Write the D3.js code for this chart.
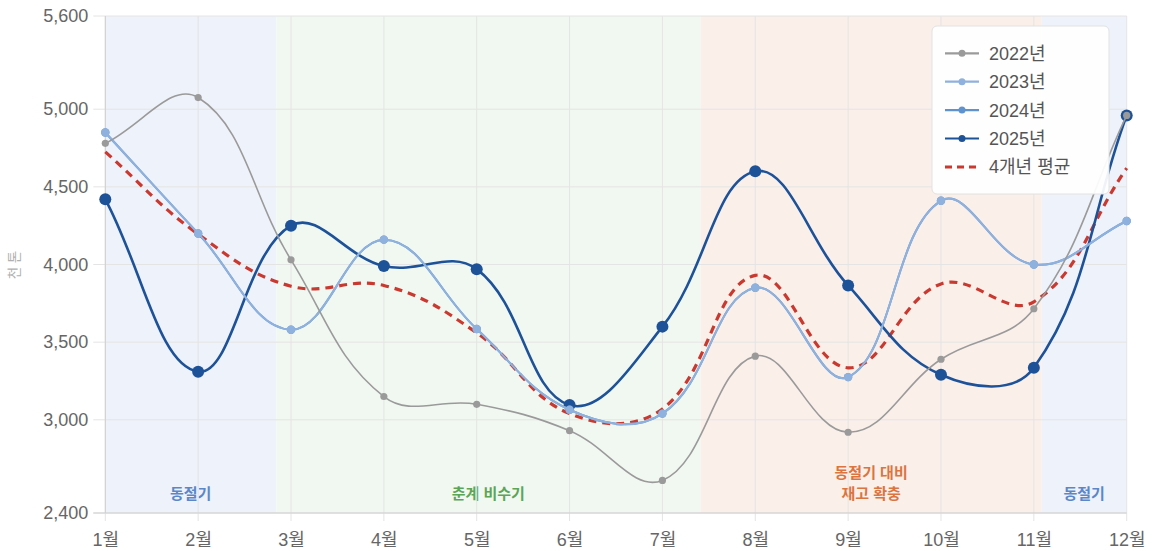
<!DOCTYPE html>
<html>
<head>
<meta charset="utf-8">
<script src="https://cdn.jsdelivr.net/npm/d3@7"></script>
<style>
  html, body { margin: 0; padding: 0; background: #fff; }
  svg { display: block; font-family: "Liberation Sans", "Noto Sans CJK KR", sans-serif; }
</style>
</head>
<body>
<svg id="chart" width="1158" height="551"></svg>
<script>
// Monthly stock levels (천 톤)
const months = ["1월","2월","3월","4월","5월","6월","7월","8월","9월","10월","11월","12월"];
const y2022 = [4780, 5075, 4030, 3150, 3100, 2930, 2610, 3410, 2920, 3390, 3715, 4960];
const y2023 = [4850, 4200, 3580, 4160, 3585, 3065, 3040, 3850, 3275, 4410, 4000, 4280];
const y2024 = [4850, 4200, 3580, 4160, 3585, 3065, 3040, 3850, 3275, 4410, 4000, 4280];
const y2025 = [4420, 3310, 4250, 3990, 3970, 3095, 3600, 4600, 3865, 3290, 3335, 4960];
const avg4 = [4725, 4195, 3860, 3865, 3560, 3040, 3070, 3930, 3335, 3875, 3760, 4620];
const yTicks = [2400, 3000, 3500, 4000, 4500, 5000, 5600];

// Seasonal bands, in month-index units
const bandStart = [0, 1.84, 6.41, 10.085];
const bandEnd = [1.84, 6.41, 10.085, 11];
const bandLabels = [["동절기"], ["춘계 비수기"], ["동절기 대비", "재고 확충"], ["동절기"]];
const bandFill = ["#eef2fa", "#f1f8f1", "#faefe9", "#eef2fa"];
const bandText = ["#5b87c8", "#5ba556", "#dc7440", "#5b87c8"];

const series = [
  { name: "2022년", values: y2022, color: "#9a9a9a", width: 1.6, r: 3.6 },
  { name: "2023년", values: y2023, color: "#8fb1de", width: 2, r: 4.2 },
  { name: "2024년", values: y2024, color: "#5f93cf", width: 2, r: 4.2 },
  { name: "2025년", values: y2025, color: "#1d5299", width: 2.6, r: 6 },
  { name: "4개년 평균", values: avg4, color: "#c9392f", width: 3.2, r: 0, dash: "8,6" }
];

const svg = d3.select("#chart");
const plotLeft = 105.3, plotRight = 1126.7, plotTop = 16, plotBottom = 513;

const x = d3.scalePoint().domain(months).range([plotLeft, plotRight]);
const xi = d3.scaleLinear().domain([0, months.length - 1]).range([plotLeft, plotRight]);
const y = d3.scaleLinear().domain([2400, 5600]).range([plotBottom, plotTop]);

// Bands
const bands = svg.append("g");
bandStart.forEach((s, i) => {
  bands.append("rect")
    .attr("x", xi(s)).attr("y", plotTop)
    .attr("width", xi(bandEnd[i]) - xi(s)).attr("height", plotBottom - plotTop)
    .attr("fill", bandFill[i]);
  const cx = (xi(s) + xi(bandEnd[i])) / 2;
  const lines = bandLabels[i];
  lines.forEach((t, j) => {
    bands.append("text")
      .attr("x", cx)
      .attr("y", 499 - (lines.length - 1 - j) * 21)
      .attr("text-anchor", "middle")
      .attr("font-size", 15).attr("font-weight", "bold")
      .attr("fill", bandText[i])
      .text(t);
  });
});

// Grid
const grid = svg.append("g");
grid.selectAll("line.h").data(yTicks).join("line")
  .attr("x1", plotLeft - 12).attr("x2", plotRight)
  .attr("y1", d => y(d)).attr("y2", d => y(d))
  .attr("stroke", "#e4e4e4").attr("stroke-width", 1);
grid.selectAll("line.v").data(months).join("line")
  .attr("x1", d => x(d)).attr("x2", d => x(d))
  .attr("y1", plotTop).attr("y2", plotBottom + 8)
  .attr("stroke", "#e4e4e4").attr("stroke-width", 1);

// Axis lines
svg.append("line").attr("x1", plotLeft).attr("x2", plotLeft).attr("y1", plotTop).attr("y2", plotBottom)
  .attr("stroke", "#cfcfcf");
svg.append("line").attr("x1", plotLeft - 12).attr("x2", plotRight).attr("y1", plotBottom).attr("y2", plotBottom)
  .attr("stroke", "#cfcfcf");

// Y axis labels
const yAxis = d3.axisLeft(y).tickValues(yTicks).tickSize(0).tickPadding(17)
  .tickFormat(d3.format(","));
const gy = svg.append("g").attr("transform", `translate(${plotLeft},0)`).call(yAxis);
gy.select(".domain").remove();
gy.selectAll("text").attr("font-size", 18).attr("fill", "#666")
  .attr("font-family", "Liberation Sans, Noto Sans CJK KR, sans-serif");

// X axis labels
const xAxis = d3.axisBottom(x).tickSize(0).tickPadding(20);
const gx = svg.append("g").attr("transform", `translate(0,${plotBottom})`).call(xAxis);
gx.select(".domain").remove();
gx.selectAll("text").attr("font-size", 18).attr("fill", "#666")
  .attr("font-family", "Liberation Sans, Noto Sans CJK KR, sans-serif");

// Y title
svg.append("text")
  .attr("transform", `translate(19,265) rotate(-90)`)
  .attr("text-anchor", "middle")
  .attr("font-size", 13.5).attr("fill", "#b0b0b0")
  .text("천 톤");

// Spline with tension-weighted control points
function splinePath(pts, tension) {
  const n = pts.length;
  const cp = pts.map((p, i) => {
    const pr = pts[i - 1] || p, nx = pts[i + 1] || p;
    const d01 = Math.hypot(p[0] - pr[0], p[1] - pr[1]);
    const d12 = Math.hypot(nx[0] - p[0], nx[1] - p[1]);
    let s01 = d01 / (d01 + d12), s12 = d12 / (d01 + d12);
    if (!isFinite(s01)) s01 = 0;
    if (!isFinite(s12)) s12 = 0;
    const fa = tension * s01, fb = tension * s12;
    return {
      prev: [p[0] - fa * (nx[0] - pr[0]), p[1] - fa * (nx[1] - pr[1])],
      next: [p[0] + fb * (nx[0] - pr[0]), p[1] + fb * (nx[1] - pr[1])]
    };
  });
  const path = d3.path();
  path.moveTo(pts[0][0], pts[0][1]);
  for (let i = 1; i < n; i++) {
    path.bezierCurveTo(cp[i - 1].next[0], cp[i - 1].next[1], cp[i].prev[0], cp[i].prev[1], pts[i][0], pts[i][1]);
  }
  return path.toString();
}

// Lines, drawn so the first series ends up on top
const linesG = svg.append("g");
series.slice().reverse().forEach(s => {
  const pts = s.values.map((v, i) => [x(months[i]), y(v)]);
  linesG.append("path")
    .attr("d", splinePath(pts, 0.4))
    .attr("fill", "none")
    .attr("stroke", s.color)
    .attr("stroke-width", s.width)
    .attr("stroke-dasharray", s.dash || null)
    .attr("stroke-linejoin", "round");
  if (s.r > 0) {
    linesG.selectAll(null).data(s.values).join("circle")
      .attr("cx", (d, i) => x(months[i]))
      .attr("cy", d => y(d))
      .attr("r", s.r)
      .attr("fill", s.color);
  }
});

// Legend
const lg = svg.append("g");
lg.append("rect")
  .attr("x", 932).attr("y", 26).attr("width", 177).attr("height", 168)
  .attr("rx", 5).attr("fill", "rgba(255,255,255,0.93)")
  .attr("stroke", "#e2e2e2");
series.forEach((s, i) => {
  const ry = 53.3 + i * 28.4;
  lg.append("line")
    .attr("x1", 945).attr("x2", 979).attr("y1", ry).attr("y2", ry)
    .attr("stroke", s.color).attr("stroke-width", s.dash ? 3 : 2.2)
    .attr("stroke-dasharray", s.dash ? "7,5" : null);
  if (s.r > 0) {
    lg.append("circle").attr("cx", 962).attr("cy", ry).attr("r", 3.5).attr("fill", s.color);
  }
  lg.append("text")
    .attr("x", 989).attr("y", ry + 6.5)
    .attr("font-size", 18).attr("fill", "#555")
    .text(s.name);
});
</script>
</body>
</html>
